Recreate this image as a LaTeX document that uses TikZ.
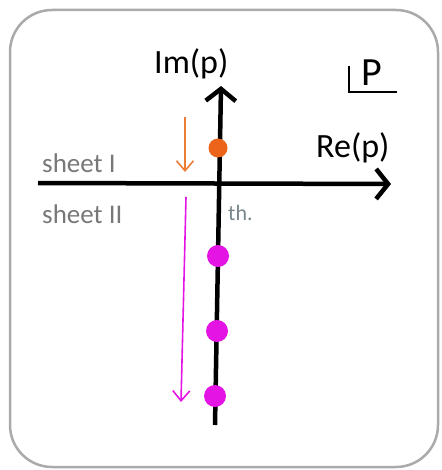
\documentclass[tikz,border=0pt]{standalone}
\usepackage{fontspec}
\setmainfont{Carlito}
\usetikzlibrary{arrows.meta}
\definecolor{framegray}{RGB}{170,170,170}
\definecolor{sheetgray}{RGB}{120,120,120}
\definecolor{thgray}{RGB}{120,135,140}
\definecolor{dotorange}{RGB}{235,100,25}
\definecolor{arroworange}{RGB}{235,125,55}
\definecolor{mag}{RGB}{228,20,228}
\tikzset{
  axisline/.style={line width=4.5pt,-{Straight Barb[length=12pt,width=30pt,line width=4.5pt]}},
  polearrow/.style={line width=1.6pt,-{Straight Barb[length=10pt,width=17pt,line width=1.6pt]}},
  axislabel/.style={anchor=base west,inner sep=0pt,font=\fontsize{34}{40}\selectfont},
  sheetlabel/.style={anchor=base west,inner sep=0pt,text=sheetgray,font=\fontsize{27}{32}\selectfont},
  pole/.style={circle,inner sep=0pt,minimum size=#1},
}
\begin{document}
\begin{tikzpicture}[x=1pt,y=-1pt]
\useasboundingbox (0,0) rectangle (441,470);
\draw[framegray,line width=2.5pt,rounded corners=42pt] (10,10) rectangle (438,467);
% axes
\coordinate (reL) at (38,183);
\coordinate (reR) at (391,184);
\coordinate (imB) at (215,425);
\coordinate (imT) at (221,86);
\draw[axisline] (reL) -- (reR);
\draw[axisline] (imB) -- (imT);
% labels
\node[axislabel] (im) at (154,74) {Im(p)};
\node[axislabel] (re) at (316,158) {Re(p)};
\node[sheetlabel] (s1) at (42,173) {sheet I};
\node[sheetlabel] (s2) at (42,223) {sheet II};
\node[anchor=base west,inner sep=0pt,text=thgray,font=\fontsize{22}{24}\selectfont] (th) at (228,220) {th.};
% p-plane symbol
\coordinate (pc) at (349,66);
\coordinate (pcorner) at (349,92);
\coordinate (pend) at (397,92);
\draw[line width=1.8pt] (pc) -- (pcorner) -- (pend);
\node[anchor=base,inner sep=0pt,font=\fontsize{40}{44}\selectfont] (P) at (372,86) {P};
% poles
\node[pole=19pt,fill=dotorange] (o1) at (218,148) {};
\node[pole=22pt,fill=mag] (m1) at (218,256) {};
\node[pole=22pt,fill=mag] (m2) at (217,331) {};
\node[pole=22pt,fill=mag] (m3) at (215,396) {};
% arrows
\coordinate (oa1) at (185,117);
\coordinate (oa2) at (185,172);
\draw[polearrow,arroworange] (oa1) -- (oa2);
\coordinate (ma1) at (186,197);
\coordinate (ma2) at (181,402);
\draw[polearrow,mag] (ma1) -- (ma2);
\end{tikzpicture}
\end{document}
